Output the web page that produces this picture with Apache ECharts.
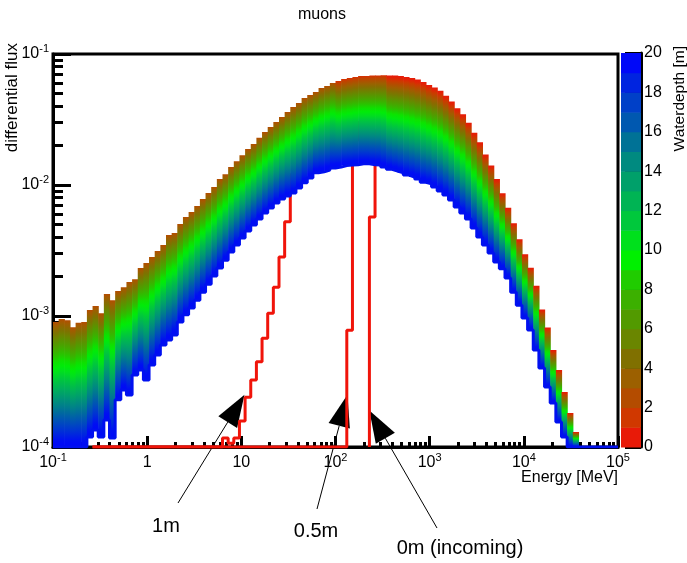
<!DOCTYPE html>
<html><head><meta charset="utf-8">
<script src="https://cdn.jsdelivr.net/npm/echarts@6/dist/echarts.min.js"></script>
<style>html,body{margin:0;padding:0;background:#fff}#c{width:687px;height:563px}</style>
</head><body><div id="c"></div>
<script>
// ---------- data ----------
const energyRange = [0.1, 1e5];      // MeV, histogram range
const nBins = 100;                   // log-spaced bins
const fluxRange = [1e-4, 1e-1];
const xTickExponents = [-1, 0, 1, 2, 3, 4, 5];
const yTickExponents = [-4, -3, -2, -1];
const depthTicks = [0, 2, 4, 6, 8, 10, 12, 14, 16, 18, 20];
const depthSegmentColors = ['#e81a08','#d03800','#b44c00','#9c6000','#807000','#6a8600','#529a00','#3cb000','#20cc00','#00f000',
  '#00e01c','#00c83c','#00b454','#00a06a','#008a80','#007296','#0058b0','#0040c8','#0024e0','#0008f8'];

// upper envelope of the depth family (shallow water), per bin
const fluxTop = [9.0e-4, 9.5e-4, 9.3e-4, 8.2e-4, 8.9e-4, 9.0e-4, 1.11e-3, 1.19e-3, 1.05e-3, 1.47e-3,
  1.32e-3, 1.55e-3, 1.66e-3, 1.82e-3, 1.91e-3, 2.32e-3, 2.54e-3, 2.82e-3, 3.13e-3, 3.48e-3,
  4.15e-3, 4.31e-3, 5.04e-3, 5.70e-3, 6.22e-3, 6.92e-3, 7.82e-3, 8.69e-3, 9.66e-3, 1.11e-2,
  1.21e-2, 1.37e-2, 1.52e-2, 1.69e-2, 1.88e-2, 2.06e-2, 2.29e-2, 2.54e-2, 2.77e-2, 3.03e-2,
  3.30e-2, 3.61e-2, 3.94e-2, 4.23e-2, 4.61e-2, 4.86e-2, 5.13e-2, 5.49e-2, 5.70e-2, 6.01e-2,
  6.22e-2, 6.44e-2, 6.56e-2, 6.67e-2, 6.79e-2, 6.80e-2, 6.85e-2, 6.86e-2, 6.87e-2, 6.86e-2,
  6.84e-2, 6.79e-2, 6.67e-2, 6.56e-2, 6.38e-2, 6.11e-2, 5.79e-2, 5.55e-2, 5.25e-2, 4.81e-2,
  4.33e-2, 3.85e-2, 3.47e-2, 2.99e-2, 2.51e-2, 2.12e-2, 1.71e-2, 1.41e-2, 1.11e-2, 8.65e-3,
  6.71e-3, 5.11e-3, 3.85e-3, 2.96e-3, 2.34e-3, 1.70e-3, 1.12e-3, 8.17e-4, 5.50e-4, 3.87e-4,
  2.63e-4, 1.82e-4, 1.30e-4, 0, 0, 0, 0, 0, 0, 0];
// lower envelope = 20 m water depth, per bin
const flux20m = [0, 0, 0, 0, 0, 0, 1.19e-4, 1.35e-4, 1.19e-4, 1.61e-4,
  1.17e-4, 2.29e-4, 2.72e-4, 2.49e-4, 3.55e-4, 3.87e-4, 3.24e-4, 4.23e-4, 5.04e-4, 6.01e-4,
  6.56e-4, 7.16e-4, 9.0e-4, 1.02e-3, 1.15e-3, 1.32e-3, 1.52e-3, 1.75e-3, 2.02e-3, 2.32e-3,
  2.67e-3, 3.08e-3, 3.48e-3, 3.94e-3, 4.46e-3, 4.95e-3, 5.50e-3, 6.11e-3, 6.67e-3, 7.29e-3,
  7.82e-3, 8.24e-3, 8.69e-3, 9.48e-3, 1.04e-2, 1.13e-2, 1.24e-2, 1.26e-2, 1.30e-2, 1.35e-2,
  1.37e-2, 1.41e-2, 1.42e-2, 1.43e-2, 1.45e-2, 1.45e-2, 1.43e-2, 1.42e-2, 1.37e-2, 1.32e-2,
  1.28e-2, 1.24e-2, 1.19e-2, 1.15e-2, 1.11e-2, 1.05e-2, 1.02e-2, 9.66e-3, 9.0e-3, 8.39e-3,
  7.67e-3, 6.79e-3, 6.11e-3, 5.50e-3, 4.70e-3, 4.01e-3, 3.48e-3, 3.03e-3, 2.58e-3, 2.29e-3,
  1.95e-3, 1.52e-3, 1.21e-3, 9.66e-4, 7.82e-4, 5.50e-4, 4.01e-4, 2.87e-4, 2.17e-4, 1.55e-4,
  1.19e-4, 0, 0, 0, 0, 0, 0, 0, 0, 0];

// thin-water histograms (red lines); first bin index given separately
const flux1mFirstBin = 7;
const flux1m = [0, 0, 0, 0, 0, 0, 0, 0, 0, 0, 0, 0, 0, 0, 0, 0, 0, 0, 0, 0, 0, 0, 0,
  1.17e-4, 1.07e-4, 1.17e-4, 1.58e-4, 2.40e-4, 3.24e-4, 4.47e-4, 6.76e-4, 1.05e-3, 1.66e-3,
  2.82e-3, 5.25e-3, 1.2e-2, 1.6e-2];
const flux05mFirstBin = 7;
const flux05m = [0, 0, 0, 0, 0, 0, 0, 0, 0, 0, 0, 0, 0, 0, 0, 0, 0, 0, 0, 0, 0, 0, 0, 0, 0,
  0, 0, 0, 0, 0, 0, 0, 0, 0, 0, 0, 0, 0, 0, 0, 0, 0, 0, 0, 0, 7.8e-4, 2.2e-2, 3.0e-2];
const flux0mFirstBin = 56;
const flux0m = [5.7e-3, 2.6e-2, 4.0e-2];

// annotations: label and the (energy, flux) the arrow points at
const annotLabels = ['1m', '0.5m', '0m (incoming)'];
const annotEnergy = [10.8, 134, 229];
const annotFlux = [2.5e-4, 2.5e-4, 1.9e-4];

// ---------- helpers ----------
const FONT = 'Liberation Sans, Arial, Helvetica, sans-serif';
const logMin = Math.log10(energyRange[0]), logMax = Math.log10(energyRange[1]);
const dlog = (logMax - logMin) / nBins;
const edge = k => logMin + k * dlog;
const yFloor = Math.log10(fluxRange[0]), yCeil = Math.log10(fluxRange[1]);
const ly = v => (v > 0 ? Math.max(Math.log10(v), yFloor) : yFloor);

function histPoints(first, vals, fromFloor) {
  const pts = [];
  if (fromFloor) pts.push([edge(first), yFloor]);
  vals.forEach((v, i) => { const k = first + i; pts.push([edge(k), ly(v)], [edge(k + 1), ly(v)]); });
  return pts;
}
function hexToRgb(h) { return [1, 3, 5].map(i => parseInt(h.substr(i, 2), 16)); }
const segRgb = depthSegmentColors.map(hexToRgb);
function depthColor(d) {
  const t = d - 0.5;
  let c;
  if (t <= 0) c = segRgb[0];
  else if (t >= 19) c = segRgb[19];
  else {
    const i = Math.floor(t), f = t - i;
    const a = segRgb[i], b = segRgb[i + 1];
    c = a.map((v, j) => Math.round(v + (b[j] - v) * f));
  }
  return 'rgb(' + c.join(',') + ')';
}
function topDepth(k) { return k < 50 ? 2.5 : (k < 59 ? 1.2 : 0); }
function bandGradient(dTop) {
  const stops = [];
  const N = 24;
  for (let j = 0; j <= N; j++) {
    const f = j / N;
    const d = dTop + (20 - dTop) * f;
    stops.push({ offset: Math.pow(f, 1.15), color: depthColor(d) });
  }
  return new echarts.graphic.LinearGradient(0, 0, 0, 1, stops);
}

const bandData = [];
fluxTop.forEach((t, k) => { if (t > 0) bandData.push([edge(k), ly(t), ly(flux20m[k]), edge(k + 1), topDepth(k)]); });

const minorX = [];
for (let d = -1; d < 5; d++) for (let m = 2; m <= 9; m++) minorX.push(d + Math.log10(m));
const minorY = [];
for (let d = -4; d < -1; d++) for (let m = 2; m <= 9; m++) minorY.push(d + Math.log10(m));

function expLabel(v, plain) {
  const e = Math.round(v);
  if (plain && e === 0) return '{b|1}';
  if (plain && e === 1) return '{b|10}';
  return '{b|10}{s|' + e + '}';
}
const rich = {
  b: { fontSize: 16, lineHeight: 22, fontFamily: FONT, color: '#000' },
  s: { fontSize: 11, lineHeight: 12, verticalAlign: 'top', fontFamily: FONT, color: '#000' }
};

const chart = echarts.init(document.getElementById('c'), null, { renderer: 'canvas' });
const G = { left: 53, top: 54, width: 565, height: 393 };
const option = {
  animation: false,
  backgroundColor: '#fff',
  grid: [
    Object.assign({ show: true, borderColor: '#000', borderWidth: 3, backgroundColor: 'transparent' }, G),
    { left: 621, top: 53, width: 20, height: 394, show: false }
  ],
  xAxis: [
    { gridIndex: 0, type: 'value', min: logMin, max: logMax, interval: 1, position: 'bottom',
      axisLine: { show: true, onZero: false, lineStyle: { color: '#000', width: 3 } },
      axisTick: { show: true, inside: true, length: 11, lineStyle: { color: '#000', width: 3 } },
      axisLabel: { margin: 5, formatter: v => expLabel(v, true), rich: rich },
      splitLine: { show: false } },
    { gridIndex: 0, type: 'value', min: logMin, max: logMax, position: 'bottom', offset: 0,
      axisLine: { show: false, onZero: false },
      axisTick: { show: true, inside: true, length: 5, customValues: minorX, lineStyle: { color: '#000', width: 3 } },
      axisLabel: { show: false }, splitLine: { show: false } },
    { gridIndex: 1, type: 'category', data: ['c'], show: false }
  ],
  yAxis: [
    { gridIndex: 0, type: 'value', min: yFloor, max: yCeil, interval: 1, position: 'left',
      axisLine: { show: true, onZero: false, lineStyle: { color: '#000', width: 3 } },
      axisTick: { show: true, inside: true, length: 18, lineStyle: { color: '#000', width: 3 } },
      axisLabel: { margin: 4, formatter: v => expLabel(v, false), rich: rich },
      splitLine: { show: false } },
    { gridIndex: 0, type: 'value', min: yFloor, max: yCeil, position: 'left', offset: 0,
      axisLine: { show: false, onZero: false },
      axisTick: { show: true, inside: true, length: 10, customValues: minorY, lineStyle: { color: '#000', width: 3 } },
      axisLabel: { show: false }, splitLine: { show: false } },
    { gridIndex: 1, type: 'value', min: 0, max: 20, interval: 2, position: 'right',
      axisLine: { show: true, onZero: false, lineStyle: { color: '#000', width: 3 } },
      axisTick: { show: true, inside: true, length: 16, lineStyle: { color: '#000', width: 3 } },
      axisLabel: { margin: 3, fontSize: 16, fontFamily: FONT, color: '#000' },
      splitLine: { show: false } }
  ],
  series: [
    { name: 'colorbar', type: 'custom', xAxisIndex: 2, yAxisIndex: 2, z: 1,
      data: depthSegmentColors.map((c, i) => [0, i]),
      renderItem: (params, api) => {
        const d = api.value(1);
        const p0 = api.coord([0, d]);
        const p1 = api.coord([0, d + 1]);
        const w = api.size([1, 0])[0];
        return { type: 'rect', shape: { x: p0[0] - w / 2, y: p1[1], width: w, height: p0[1] - p1[1] + 0.5 },
          style: { fill: depthSegmentColors[d] } };
      } },
    { name: '1m', type: 'line', xAxisIndex: 0, yAxisIndex: 0, z: 1, symbol: 'none',
      data: histPoints(flux1mFirstBin, flux1m, false), lineStyle: { color: '#f0140a', width: 3 } },
    { name: '0.5m', type: 'line', xAxisIndex: 0, yAxisIndex: 0, z: 1, symbol: 'none',
      data: histPoints(flux05mFirstBin, flux05m, false), lineStyle: { color: '#f0140a', width: 3 } },
    { name: '0m', type: 'line', xAxisIndex: 0, yAxisIndex: 0, z: 1, symbol: 'none',
      data: histPoints(flux0mFirstBin, flux0m, true), lineStyle: { color: '#f0140a', width: 3 } },
    { name: 'band', type: 'custom', xAxisIndex: 0, yAxisIndex: 0, z: 2, clip: true,
      data: bandData,
      renderItem: (params, api) => {
        const a = api.coord([api.value(0), api.value(1)]);
        const b = api.coord([api.value(3), api.value(2)]);
        return { type: 'rect', shape: { x: a[0], y: a[1], width: b[0] - a[0] + 0.6, height: b[1] - a[1] },
          style: { fill: bandGradient(api.value(4)) } };
      } },
    { name: '20m', type: 'line', xAxisIndex: 0, yAxisIndex: 0, z: 3, symbol: 'none',
      data: histPoints(0, flux20m, false), lineStyle: { color: '#0010f0', width: 3 } }
  ]
};
chart.setOption(option);

// ---------- text & annotations ----------
const labelPos = [[166, 526], [316, 531], [460, 548]];
const tailPos = [[178, 503], [317, 509], [437, 528]];
const graphics = [
  { type: 'text', x: 322, y: 15, style: { text: 'muons', font: '16px ' + FONT, fill: '#000', align: 'center', verticalAlign: 'middle' } },
  { type: 'text', x: 12, y: 43, rotation: Math.PI / 2, style: { text: 'differential flux', font: '17px ' + FONT, fill: '#000', align: 'right', verticalAlign: 'middle' } },
  { type: 'text', x: 618, y: 478, style: { text: 'Energy [MeV]', font: '16px ' + FONT, fill: '#000', align: 'right', verticalAlign: 'middle' } },
  { type: 'text', x: 680, y: 46, rotation: Math.PI / 2, style: { text: 'Waterdepth [m]', font: '15.5px ' + FONT, fill: '#000', align: 'right', verticalAlign: 'middle' } }
];
annotLabels.forEach((lab, i) => {
  const tip = chart.convertToPixel({ xAxisIndex: 0, yAxisIndex: 0 }, [Math.log10(annotEnergy[i]), Math.log10(annotFlux[i])]);
  const tail = tailPos[i];
  const dx = tail[0] - tip[0], dy = tail[1] - tip[1];
  const L = Math.hypot(dx, dy), ux = dx / L, uy = dy / L;
  const hl = 32, hw = 11;
  const bx = tip[0] + ux * hl, by = tip[1] + uy * hl;
  graphics.push({ type: 'line', shape: { x1: tail[0], y1: tail[1], x2: bx, y2: by }, style: { stroke: '#000', lineWidth: 1 } });
  graphics.push({ type: 'polygon', shape: { points: [tip, [bx - uy * hw, by + ux * hw], [bx + uy * hw, by - ux * hw]] }, style: { fill: '#000' } });
  graphics.push({ type: 'text', x: labelPos[i][0], y: labelPos[i][1], style: { text: lab, font: '20px ' + FONT, fill: '#000', align: 'center', verticalAlign: 'middle' } });
});
chart.setOption({ graphic: graphics });
</script>
</body></html>
